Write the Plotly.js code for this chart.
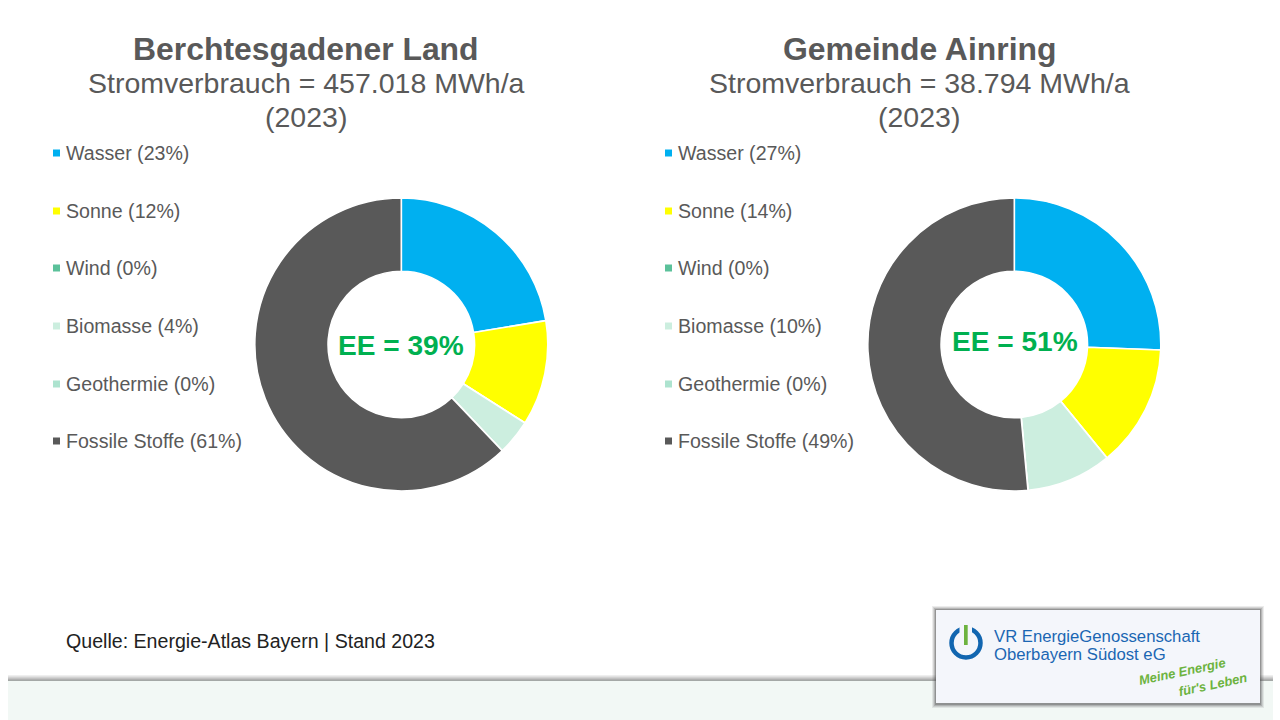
<!DOCTYPE html>
<html><head><meta charset="utf-8">
<script src="https://cdn.plot.ly/plotly-3.0.1.min.js"></script>
<style>html,body{margin:0;padding:0;background:#fff}#c{width:1280px;height:720px}</style></head>
<body><div id="c"></div>
<script>
const categories = ["Wasser","Sonne","Wind","Biomasse","Geothermie","Fossile Stoffe"];
const colors = ["#00B0F0","#FFFF00","#5BC19A","#CCEEDF","#ADE3CF","#595959"];
const valuesLand = [22.4,11.6,0.01,3.9,0.01,62.1];
const valuesAinring = [25.6,13.5,0.01,9.4,0.01,51.5];
const labelsLand = ["Wasser (23%)","Sonne (12%)","Wind (0%)","Biomasse (4%)","Geothermie (0%)","Fossile Stoffe (61%)"];
const labelsAinring = ["Wasser (27%)","Sonne (14%)","Wind (0%)","Biomasse (10%)","Geothermie (0%)","Fossile Stoffe (49%)"];
const W=1280,H=720, FONT='"Liberation Sans", Arial, sans-serif';
const px=x=>x/W, py=y=>1-y/H;
function pie(vals,cx,cy,r,name){
  return {type:'pie',name,labels:categories,values:vals,sort:false,direction:'clockwise',rotation:0,hole:0.5,
    textinfo:'none',hoverinfo:'label+percent',showlegend:false,
    marker:{colors,line:{color:'#fff',width:1.6}},
    domain:{x:[px(cx-r),px(cx+r)],y:[py(cy+r),py(cy-r)]}};
}
const ann=[], shp=[];
function text(t,x,y,size,color,anchor,extra){
  ann.push(Object.assign({xref:'paper',yref:'paper',x:px(x),y:py(y),text:t,showarrow:false,xanchor:anchor||'center',yanchor:'middle',
    font:{family:FONT,size,color},align:'left'},extra||{}));
}
text('<b>Berchtesgadener Land</b>',306,49,31.9,'#595959');
text('Stromverbrauch = 457.018 MWh/a',306,83,28.5,'#595959');
text('(2023)',306,117,28.5,'#595959');
text('<b>Gemeinde Ainring</b>',919,49,31.9,'#595959');
text('Stromverbrauch = 38.794 MWh/a',919,83,28.5,'#595959');
text('(2023)',919,117,28.5,'#595959');
const rowY=[153,211,268,326,384,441];
function legend(labels,xs,xt){
  labels.forEach((l,i)=>{
    shp.push({type:'rect',xref:'paper',yref:'paper',x0:px(xs),x1:px(xs+7),y0:py(rowY[i]+3.5),y1:py(rowY[i]-3.5),fillcolor:colors[i],line:{width:0}});
    text(l,xt,rowY[i],19.6,'#595959','left');
  });
}
legend(labelsLand,53,64);
legend(labelsAinring,665,676);
text('<b>EE = 39%</b>',401,345.5,28.1,'#00B050');
text('<b>EE = 51%</b>',1015,341,28.1,'#00B050');
text('Quelle: Energie-Atlas Bayern | Stand 2023',64,640.5,19.6,'#222222','left');
function rect(x0,y0,x1,y1,fill,extra){shp.push(Object.assign({type:'rect',xref:'paper',yref:'paper',x0:px(x0),x1:px(x1),y0:py(y1),y1:py(y0),fillcolor:fill,line:{width:0}},extra||{}));}
// footer band with soft shadow above it
[[675,'#EFEFEF'],[676,'#E2E2E2'],[677,'#D2D2D2'],[678,'#C2C2C2'],[679,'#B0B0B0'],[680,'#A4A8A6']].forEach(s=>rect(8,s[0],1273,s[0]+1,s[1]));
rect(8,681,1273,720,'#F2F8F5');
// logo card with soft shadow
[[4,0.10],[3,0.14],[2,0.2],[1,0.3]].forEach(s=>rect(936-s[0],610-s[0],1260+s[0],703+s[0]+1,'rgba(70,70,70,'+s[1]+')'));
rect(936,610,1260,703,'#F4F6FB');
shp.push({type:'circle',xref:'paper',yref:'paper',x0:px(951.5),x1:px(980.5),y0:py(657.5),y1:py(628.5),line:{color:'#1266B0',width:4.5},fillcolor:'rgba(0,0,0,0)'});
rect(959.5,625,972,640,'#F4F6FB');
rect(964,625,967.7,645,'#6DB33F');
text('VR EnergieGenossenschaft',992,636,16.7,'#1B66B3','left');
text('Oberbayern Südost eG',992,654,16.7,'#1B66B3','left');
text('<b><i>Meine Energie</i></b>',1182,671,13,'#6DB33F','center',{textangle:-12});
text('<b><i>für\'s Leben</i></b>',1213,684,13,'#6DB33F','center',{textangle:-12});
Plotly.newPlot('c',[pie(valuesLand,401.3,344.5,146.5,'Berchtesgadener Land'),pie(valuesAinring,1014.3,344.5,146.5,'Gemeinde Ainring')],
 {width:W,height:H,margin:{l:0,r:0,t:0,b:0},paper_bgcolor:'#fff',showlegend:false,annotations:ann,shapes:shp},{displayModeBar:false,staticPlot:true});
</script></body></html>
